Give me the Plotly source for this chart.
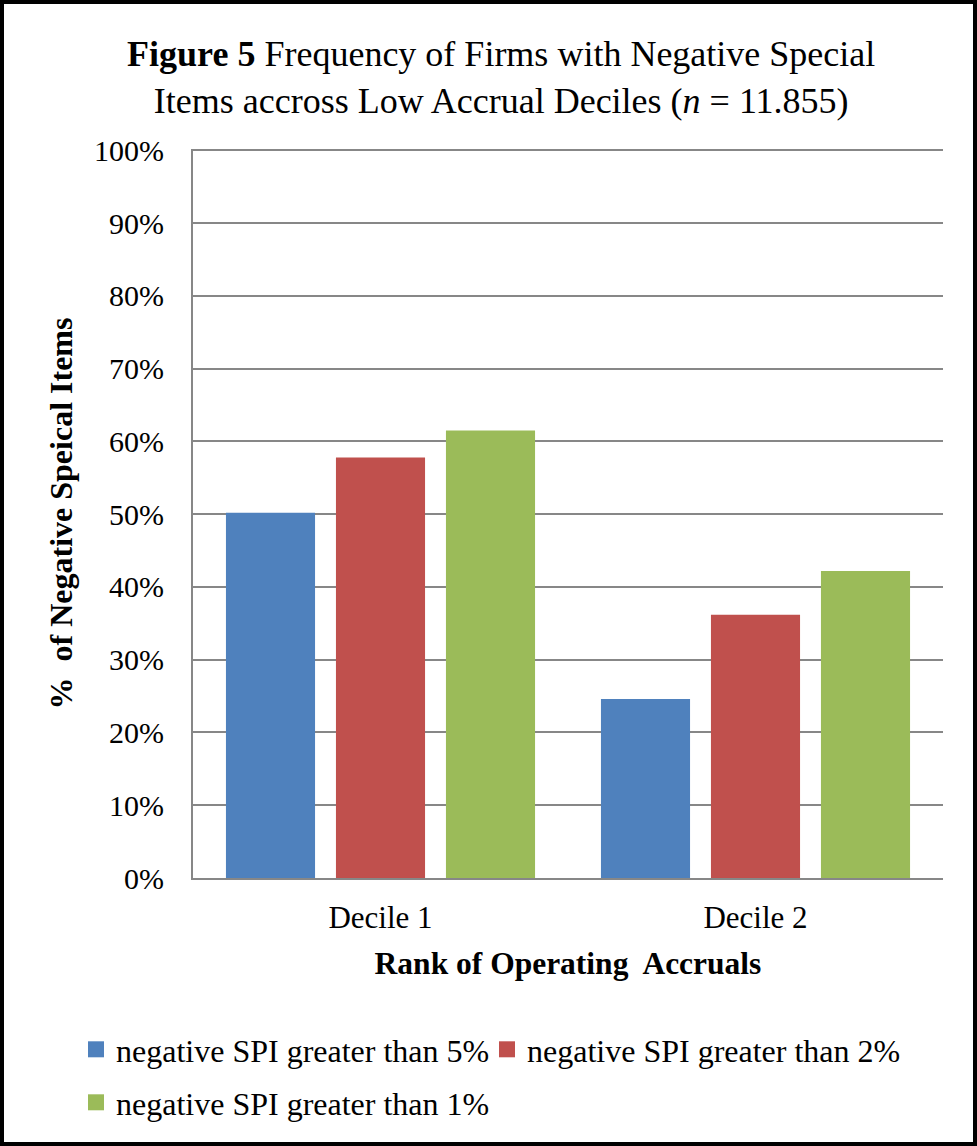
import plotly.graph_objects as go

categories = ["Decile 1", "Decile 2"]
series_names = [
    "negative SPI greater than 5%",
    "negative SPI greater than 2%",
    "negative SPI greater than 1%",
]
spi_gt_5 = [0.502, 0.246]
spi_gt_2 = [0.578, 0.362]
spi_gt_1 = [0.615, 0.422]
colors = ["#4F81BD", "#C0504D", "#9BBB59"]
y_tickvals = [0, 0.1, 0.2, 0.3, 0.4, 0.5, 0.6, 0.7, 0.8, 0.9, 1.0]

W, H = 977, 1146
L, R, T, B = 193, 34, 149, 268
pw, ph = W - L - R, H - T - B

FONT = "Liberation Serif, Times New Roman, serif"

fig = go.Figure()
legend_ids = ["legend", "legend2", "legend3"]
for name, vals, col, lg in zip(series_names, [spi_gt_5, spi_gt_2, spi_gt_1], colors, legend_ids):
    fig.add_trace(go.Bar(x=categories, y=vals, name=name, showlegend=False,
                         marker=dict(color=col, line=dict(width=0))))
    # legend entry with a larger square swatch
    fig.add_trace(go.Scatter(x=[None], y=[None], mode="markers", name=name, legend=lg,
                             marker=dict(symbol="square", size=19, color=col), showlegend=True))

legend_common = dict(orientation="h", xref="container", yref="container",
                     xanchor="left", yanchor="top",
                     font=dict(family=FONT, size=32, color="black"),
                     bgcolor="rgba(0,0,0,0)")

fig.update_layout(
    width=W, height=H,
    margin=dict(l=L, r=R, t=T, b=B, autoexpand=False),
    paper_bgcolor="white", plot_bgcolor="white",
    font=dict(family=FONT, color="black", size=30),
    barmode="group", bargap=0.12, bargroupgap=0.19,
    title=dict(
        text="<b>Figure 5</b> Frequency of Firms with Negative Special<br>Items accross Low Accrual Deciles (<i>n</i> = 11.855)",
        x=0.513, xref="container", xanchor="center",
        y=0.942, yref="container", yanchor="top",
        font=dict(family=FONT, size=36, color="black"),
    ),
    xaxis=dict(
        showline=True, linecolor="#878787", linewidth=2,
        ticks="", ticklabelstandoff=11,
        tickfont=dict(size=31),
        title=dict(text="<b>Rank of Operating\u00a0 Accruals</b>", font=dict(size=31.5), standoff=18),
    ),
    yaxis=dict(
        range=[0, 1.002], tickvals=y_tickvals, tickformat=".0%",
        showgrid=True, gridcolor="#878787", gridwidth=2,
        showline=True, linecolor="#878787", linewidth=2,
        zeroline=False, ticks="", ticklabelstandoff=21,
        tickfont=dict(size=30),
        title=dict(text="<b>%\u00a0 of Negative Speical Items</b>", font=dict(size=32), standoff=12),
    ),
    legend=dict(x=76 / W, y=1 - 1022 / H, **legend_common),
    legend2=dict(x=487 / W, y=1 - 1022 / H, **legend_common),
    legend3=dict(x=76 / W, y=1 - 1075 / H, **legend_common),
    shapes=[dict(
        type="rect", xref="paper", yref="paper",
        x0=(2 - L) / pw, x1=(W - 2 - L) / pw,
        y0=(ph + T - (H - 2)) / ph, y1=(ph + T - 2) / ph,
        line=dict(color="black", width=4), fillcolor="rgba(0,0,0,0)", layer="above",
    )],
)

fig.write_html("out.html")
